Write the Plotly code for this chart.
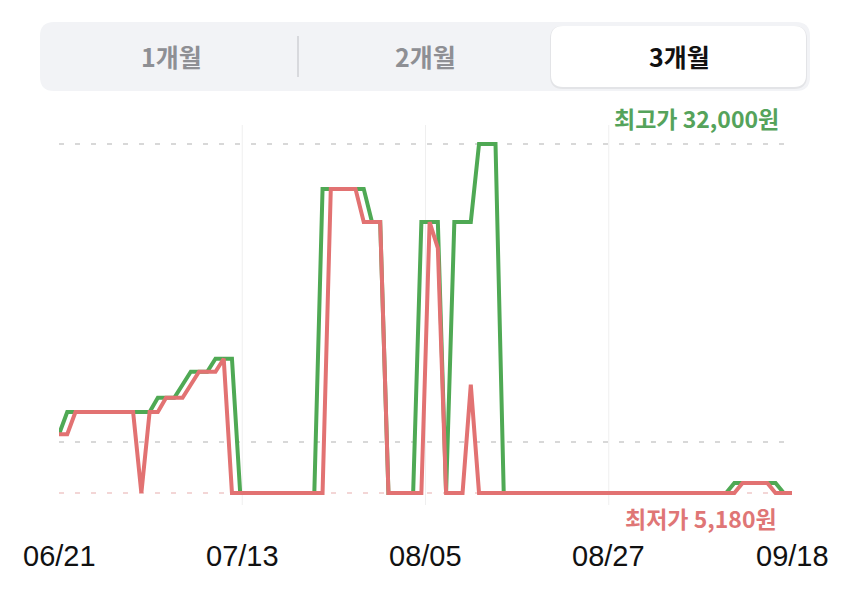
import plotly.graph_objects as go

# ---- data ----
dates = ["06/21", "07/13", "08/05", "08/27", "09/18"]
n_days = 90
high_price = ([9700] + [11400] * 11 + [12500] * 3 + [13500] + [14500] * 3 + [15500] * 3
              + [5180] * 10 + [28550] * 6 + [26000] * 2 + [5180] * 4 + [26000] * 3
              + [5180] + [26000] * 3 + [32000] * 3 + [5180] * 28 + [5950] * 6 + [5180] * 2)
low_price = ([9700] * 2 + [11400] * 8 + [5180] + [11400] * 2 + [12500] * 3 + [13500]
             + [14500] * 3 + [15500] + [5180] * 12 + [28550] * 4 + [26000] * 3
             + [5180] * 5 + [26000] + [24000] + [5180] * 3 + [13500] + [5180] * 32
             + [5950] * 4 + [5180] * 3)
ref_lines = [32000, 9100]
max_label = "최고가 32,000원"
min_label = "최저가 5,180원"
max_value = 32000
min_value = 5180
segments = ["1개월", "2개월", "3개월"]

day_idx = list(range(len(high_price)))
tick_pos = [i * (n_days - 1) / (len(dates) - 1) for i in range(len(dates))]

OFF = 8  # page body margin
W, H = 850, 597
PW, PH = 733, 380
L, T = 59 - OFF, 125 - OFF
R, B = W - L - PW, H - T - PH

def px(x):
    return (x - OFF - L) / PW

def py(y):
    return (T + PH - (y - OFF)) / PH

def rrect(x0, y0, x1, y1, r):
    def P(x, y):
        return f"{px(x):.5f},{py(y):.5f}"
    return (f"M {P(x0 + r, y0)} L {P(x1 - r, y0)} Q {P(x1, y0)} {P(x1, y0 + r)} "
            f"L {P(x1, y1 - r)} Q {P(x1, y1)} {P(x1 - r, y1)} L {P(x0 + r, y1)} "
            f"Q {P(x0, y1)} {P(x0, y1 - r)} L {P(x0, y0 + r)} Q {P(x0, y0)} {P(x0 + r, y0)} Z")

GREEN = "#4fa954"
RED = "#e27272"
FONT = "Noto Sans CJK KR"

fig = go.Figure()
fig.add_trace(go.Scatter(x=day_idx, y=high_price, mode="lines",
                         line=dict(color=GREEN, width=4), hoverinfo="skip"))
fig.add_trace(go.Scatter(x=day_idx[:len(low_price)], y=low_price, mode="lines",
                         line=dict(color=RED, width=4), hoverinfo="skip"))

shapes = []
for tp in tick_pos[1:-1]:
    shapes.append(dict(type="line", xref="x", yref="paper", x0=tp, x1=tp, y0=0, y1=1,
                       line=dict(color="#efefef", width=1), layer="below"))
for v in ref_lines:
    shapes.append(dict(type="line", xref="x", yref="y", x0=0, x1=n_days - 1, y0=v, y1=v,
                       line=dict(color="#d8d8d8", width=2, dash="5px,11px"), layer="below"))
shapes.append(dict(type="line", xref="x", yref="y", x0=0, x1=n_days - 1, y0=min_value, y1=min_value,
                   line=dict(color="#f3d6d6", width=2, dash="5px,11px"), layer="below"))
# segment control
shapes.append(dict(type="path", xref="paper", yref="paper", path=rrect(40, 22, 810, 91, 14),
                   fillcolor="#f2f3f6", line=dict(width=0), layer="below"))
shapes.append(dict(type="path", xref="paper", yref="paper", path=rrect(550, 26, 807, 89, 13),
                   fillcolor="#e3e4e7", line=dict(width=0), layer="below"))
shapes.append(dict(type="path", xref="paper", yref="paper", path=rrect(551, 26, 806, 87, 12),
                   fillcolor="#ffffff", line=dict(width=0), layer="below"))
shapes.append(dict(type="line", xref="paper", yref="paper", x0=px(298), x1=px(298),
                   y0=py(36), y1=py(77), line=dict(color="#d8d9dd", width=2)))

annotations = []
seg_x = [171, 425, 679]
for i, s in enumerate(segments):
    annotations.append(dict(x=px(seg_x[i]), y=py(56), xref="paper", yref="paper",
                            text=f"<b>{s}</b>", showarrow=False, xanchor="center", yanchor="middle",
                            font=dict(family=FONT, size=25,
                                      color="#111111" if i == 2 else "#8e8f94")))
annotations.append(dict(x=px(781), y=py(118), xref="paper", yref="paper", text=f"<b>{max_label}</b>",
                        showarrow=False, xanchor="right", yanchor="middle",
                        font=dict(family=FONT, size=23, color="#55a35b")))
annotations.append(dict(x=px(779), y=py(518), xref="paper", yref="paper", text=f"<b>{min_label}</b>",
                        showarrow=False, xanchor="right", yanchor="middle",
                        font=dict(family=FONT, size=23, color="#df7676")))
for tp, d in zip(tick_pos, dates):
    annotations.append(dict(x=tp, y=py(556), xref="x", yref="paper", text=d, showarrow=False,
                            xanchor="center", yanchor="middle",
                            font=dict(family="Liberation Sans", size=29, color="#111111")))

ymin = min_value - 12 * (max_value - min_value) / 349
ymax = max_value + 19 * (max_value - min_value) / 349

fig.update_layout(
    width=W, height=H, margin=dict(l=L, r=R, t=T, b=B),
    paper_bgcolor="white", plot_bgcolor="white", showlegend=False,
    xaxis=dict(range=[0, n_days - 1], showgrid=False, zeroline=False, showticklabels=False,
               fixedrange=True),
    yaxis=dict(range=[ymin, ymax], showgrid=False, zeroline=False, showticklabels=False,
               fixedrange=True),
    shapes=shapes, annotations=annotations,
)
fig.write_html("out.html", config={"displayModeBar": False})
